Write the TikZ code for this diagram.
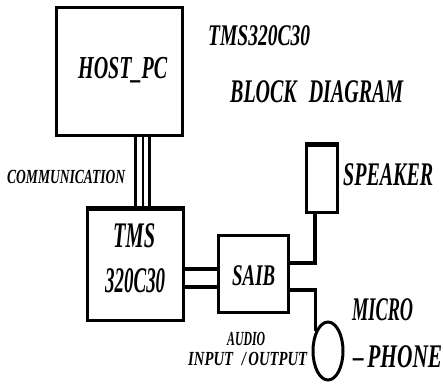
\documentclass[tikz,border=0pt]{standalone}
\usepackage{fontspec}
\usepackage{graphicx}
\setmainfont{Liberation Serif}
\usetikzlibrary{shapes.geometric}
\newcommand\fitw[3]{\resizebox{#1}{\height}{\fontsize{#2}{#2}\selectfont\bfseries\itshape #3}}
\tikzset{
  blk/.style={draw, line width=3pt, rectangle, inner sep=0pt},
  lbl/.style={inner sep=0pt, anchor=base west},
  wire/.style={line width=3.2pt},
  fat/.style={line width=4.5pt},
}
\begin{document}
\begin{tikzpicture}[x=1pt, y=-1pt]
\useasboundingbox (0,0) rectangle (444,383);
% blocks
\node[blk, minimum width=126pt, minimum height=128pt] (host) at (119,71) {};
\node[blk, minimum width=96pt, minimum height=111pt] (tms) at (135,264.5) {};
\node[blk, minimum width=70pt, minimum height=77pt] (saib) at (253,273.5) {};
\node[blk, minimum width=31pt, minimum height=67pt] (spk) at (321.5,178.5) {};
\node[draw, line width=3pt, ellipse, minimum width=30pt, minimum height=58pt, inner sep=0pt] (mic) at (328,351) {};
% heavier top edges as in the reference
\draw[line width=5pt] ([yshift=-1pt]spk.north west) -- ([yshift=-1pt]spk.north east);
\draw[line width=4.5pt] ([yshift=-0.8pt]tms.north west) -- ([yshift=-0.8pt]tms.north east);
% labels
\node[lbl] (thost) at (78,78) {\fitw{89pt}{32pt}{HOST\_PC}};
\node[lbl] (t1) at (208,45) {\fitw{102pt}{30pt}{TMS320C30}};
\node[lbl] (t2) at (230,102) {\fitw{173pt}{33pt}{BLOCK\hspace{0.6em}DIAGRAM}};
\node[lbl] (tcom) at (7,183) {\fitw{118pt}{20pt}{COMMUNICATION}};
\node[lbl] (ttms) at (113,247) {\fitw{42pt}{36pt}{TMS}};
\node[lbl] (tnum) at (105,292) {\fitw{60pt}{36pt}{320C30}};
\node[lbl] (tsaib) at (232,285) {\fitw{43pt}{30pt}{SAIB}};
\node[lbl] (tspk) at (343,185) {\fitw{90pt}{33pt}{SPEAKER}};
\node[lbl] (taud) at (227,345) {\fitw{38pt}{20pt}{AUDIO}};
\node[lbl] (tio) at (188,365) {\fitw{119pt}{20pt}{INPUT\hspace{0.6em}/\,OUTPUT}};
\node[lbl] (tmic) at (352,320) {\fitw{61pt}{33pt}{MICRO}};
\node[lbl] (tph) at (353,367) {\fitw{89pt}{33pt}{--\,PHONE}};
% communication bus
\draw[line width=3pt] (host.south -| 135,0) -- (tms.north -| 135,0);
\draw[line width=2pt] (host.south -| 143,0) -- (tms.north -| 143,0);
\draw[line width=3pt] (host.south -| 149.5,0) -- (tms.north -| 149.5,0);
% TMS to SAIB
\draw[fat] (tms.east |- 0,269) -- (saib.west |- 0,269);
\draw[fat] (tms.east |- 0,287) -- (saib.west |- 0,287);
% SAIB to speaker
\draw[wire] (saib.east |- 0,263) -| (spk.south -| 315,0);
% SAIB to microphone
\draw[wire] (saib.east |- 0,290) -| (mic.122);
\end{tikzpicture}
\end{document}
